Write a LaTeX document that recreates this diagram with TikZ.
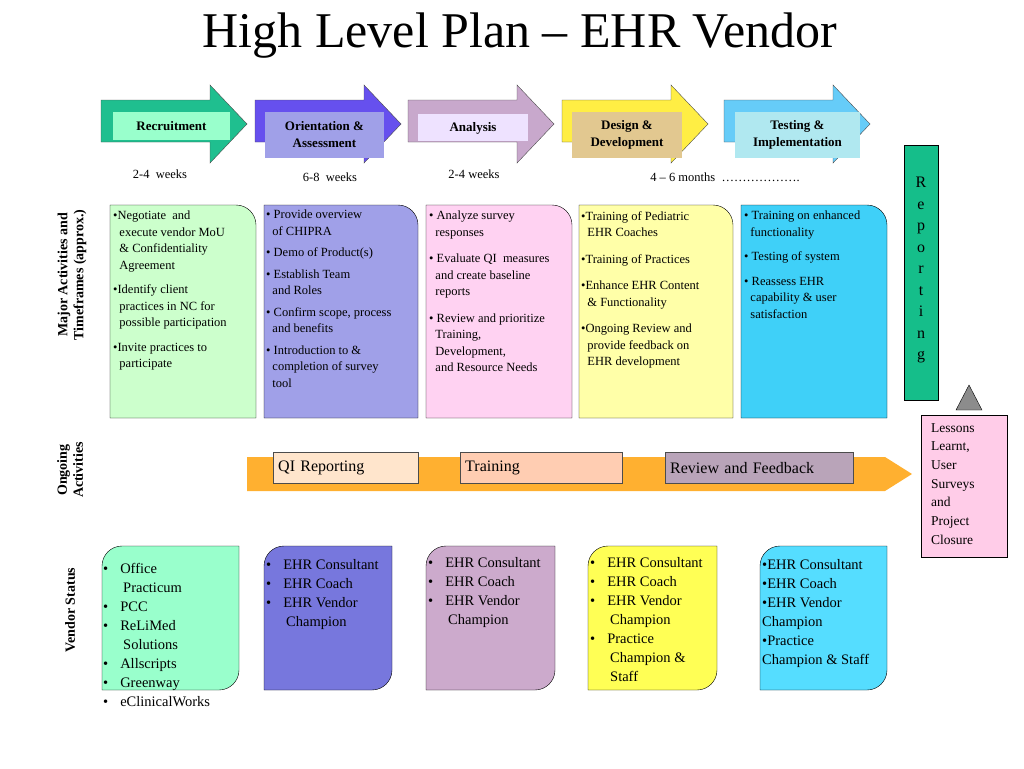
\documentclass[tikz,border=0pt]{standalone}
\usepackage{fontspec}
\setmainfont{Liberation Serif}
\usetikzlibrary{positioning}

\definecolor{recA}{HTML}{1FBF8F}\definecolor{recL}{HTML}{99FFCC}
\definecolor{oriA}{HTML}{6650EE}\definecolor{oriL}{HTML}{A0A0E8}
\definecolor{anaA}{HTML}{C8A8CC}\definecolor{anaL}{HTML}{EEE2FF}
\definecolor{desA}{HTML}{FFEE44}\definecolor{desL}{HTML}{E2C890}
\definecolor{tesA}{HTML}{66CCF8}\definecolor{tesL}{HTML}{B0E8F0}
\definecolor{actA}{HTML}{CCFFCC}\definecolor{actB}{HTML}{A0A0E8}
\definecolor{actC}{HTML}{FFD2F2}\definecolor{actD}{HTML}{FFFFA8}
\definecolor{actE}{HTML}{3FD0F8}
\definecolor{venA}{HTML}{99FFCC}\definecolor{venB}{HTML}{7777DD}
\definecolor{venC}{HTML}{CCAACC}\definecolor{venD}{HTML}{FFFF55}
\definecolor{venE}{HTML}{55DDFF}
\definecolor{ongo}{HTML}{FFB030}
\definecolor{repo}{HTML}{15BE8A}
\definecolor{less}{HTML}{FFCCE8}

\tikzset{
  phaselabel/.style={draw=none, font=\bfseries\fontsize{13}{17}\selectfont, align=center, inner sep=0pt},
  acttext/.style={anchor=north west, align=left, inner sep=0pt, font=\fontsize{12.5}{16.5}\selectfont},
  ventext/.style={anchor=north west, align=left, inner sep=0pt, font=\fontsize{14.5}{19}\selectfont},
  dur/.style={font=\fontsize{12.5}{15}\selectfont, inner sep=0pt},
  rowlabel/.style={rotate=90, font=\bfseries\fontsize{14}{16}\selectfont, align=center},
  ongolabel/.style={draw=black!70, minimum height=31pt, font=\fontsize{16}{18}\selectfont, inner sep=0pt}
}

% phase arrow: #1 left x, #2 body colour
\newcommand{\phasearrow}[2]{%
  \draw[black!70, fill=#2] (#1,100) -- (#1+109,100) -- (#1+109,85) -- (#1+146,124)
    -- (#1+109,163) -- (#1+109,142) -- (#1,142) -- cycle;}

\begin{document}
\begin{tikzpicture}[x=1pt, y=-1pt]
\useasboundingbox (0,0) rectangle (1024,768);

\node (title) at (520,36) {\fontsize{50}{54}\selectfont High Level Plan -- EHR Vendor};

% phases
\phasearrow{101}{recA}
\phasearrow{255}{oriA}
\phasearrow{408}{anaA}
\phasearrow{562}{desA}
\phasearrow{724}{tesA}
\fill[recL] (113,112) rectangle (230,140);
\node[phaselabel] (recruit) at (171.5,126) {Recruitment};
\fill[oriL] (265,112) rectangle (384,158);
\node[phaselabel] (orient) at (324.5,135) {Orientation \&\\Assessment};
\fill[anaL] (418,114) rectangle (528,141);
\node[phaselabel] (analysis) at (473,128) {Analysis};
\fill[desL] (572,112) rectangle (682,158);
\node[phaselabel] (design) at (627,135) {Design \&\\Development};
\fill[tesL] (735,112) rectangle (860,158);
\node[phaselabel] (testing) at (797.5,135) {Testing \&\\Implementation};

\node[dur] (d1) at (160,174) {2-4\ \ weeks};
\node[dur] (d2) at (330,177) {6-8\ \ weeks};
\node[dur] (d3) at (474,174) {2-4 weeks};
\node[dur] (d4) at (725,177) {4 -- 6 months\ \ \ldots\ldots\ldots\ldots\ldots\ldots.};

% row labels
\node[rowlabel] (rowmaj) at (72,275) {Major Activities and\\Timeframes (approx.)};
\node[rowlabel] (rowong) at (70,470) {Ongoing\\Activities};
\node[rowlabel] (rowven) at (70,610) {Vendor Status};

% activity boxes
\draw[fill=actA] (110,418) -- (110,205) -- (236,205) arc[start angle=-90,end angle=0,radius=20] -- (256,418) -- cycle;
\draw[fill=actB] (264,418) -- (264,205) -- (398,205) arc[start angle=-90,end angle=0,radius=20] -- (418,418) -- cycle;
\draw[fill=actC] (426,418) -- (426,205) -- (552,205) arc[start angle=-90,end angle=0,radius=20] -- (572,418) -- cycle;
\draw[fill=actD] (579,418) -- (579,205) -- (713,205) arc[start angle=-90,end angle=0,radius=20] -- (733,418) -- cycle;
\draw[fill=actE] (741,418) -- (741,205) -- (867,205) arc[start angle=-90,end angle=0,radius=20] -- (887,418) -- cycle;

\node[acttext] (act1) at (113,211) {\textbullet Negotiate\ \ and\\\ \ execute vendor MoU\\\ \ \& Confidentiality\\\ \ Agreement\\[8pt]
  \textbullet Identify client\\\ \ practices in NC for\\\ \ possible participation\\[8pt]\textbullet Invite practices to\\\ \ participate};
\node[acttext] (act2) at (266,210) {\textbullet\ Provide overview\\\ \ of CHIPRA\\[5pt]\textbullet\ Demo of Product(s)\\[5pt]
  \textbullet\ Establish Team\\\ \ and Roles\\[5pt]\textbullet\ Confirm scope, process\\\ \ and benefits\\[5pt]
  \textbullet\ Introduction to \&\\\ \ completion of survey\\\ \ tool};
\node[acttext] (act3) at (429,211) {\textbullet\ Analyze survey\\\ \ responses\\[10pt]\textbullet\ Evaluate QI\ \ measures\\\ \ and create baseline\\\ \ reports\\[10pt]
  \textbullet\ Review and prioritize\\\ \ Training,\\\ \ Development,\\\ \ and Resource Needs};
\node[acttext] (act4) at (581,211) {\textbullet Training of Pediatric\\\ \ EHR Coaches\\[10pt]\textbullet Training of Practices\\[10pt]
  \textbullet Enhance EHR Content\\\ \ \& Functionality\\[10pt]\textbullet Ongoing Review and\\\ \ provide feedback on\\\ \ EHR development};
\node[acttext] (act5) at (744,211) {\textbullet\ Training on enhanced\\\ \ functionality\\[8pt]\textbullet\ Testing of system\\[8pt]
  \textbullet\ Reassess EHR\\\ \ capability \& user\\\ \ satisfaction};

% reporting and closure
\draw[fill=repo] (904,145) rectangle (938,400);
\node[align=center, font=\fontsize{16}{21.5}\selectfont, inner sep=0pt] (report) at (921,270) {R\\e\\p\\o\\r\\t\\i\\n\\g};
\draw[fill=black!45] (956,410) -- (969,385) -- (982,410) -- cycle;
\draw[fill=less] (921,415) rectangle (1007,557);
\node[anchor=north west, align=left, inner sep=0pt, font=\fontsize{13.5}{18.7}\selectfont] (lessons) at (931,423)
  {Lessons\\Learnt,\\User\\Surveys\\and\\Project\\Closure};

% ongoing activities
\fill[ongo] (247,457) -- (885,457) -- (912,474) -- (885,491) -- (247,491) -- cycle;
\node[ongolabel, fill=orange!20, minimum width=145pt, anchor=west, text width=135pt] (qirep) at (273,468) {QI Reporting};
\node[ongolabel, fill=red!30!orange!30, minimum width=162pt, anchor=west, text width=152pt] (train) at (460,468) {Training};
\node[ongolabel, fill=violet!30!gray!55, minimum width=188pt, anchor=west, text width=178pt] (review) at (665,468) {Review and Feedback};

% vendor status
\draw[fill=venA] (102,690) -- (102,566) arc[start angle=180,end angle=270,radius=20] -- (239,546) -- (239,670) arc[start angle=0,end angle=90,radius=20] -- cycle;
\draw[fill=venB] (264,690) -- (264,566) arc[start angle=180,end angle=270,radius=20] -- (392,546) -- (392,670) arc[start angle=0,end angle=90,radius=20] -- cycle;
\draw[fill=venC] (426,690) -- (426,566) arc[start angle=180,end angle=270,radius=20] -- (555,546) -- (555,670) arc[start angle=0,end angle=90,radius=20] -- cycle;
\draw[fill=venD] (588,690) -- (588,566) arc[start angle=180,end angle=270,radius=20] -- (717,546) -- (717,670) arc[start angle=0,end angle=90,radius=20] -- cycle;
\draw[fill=venE] (760,690) -- (760,566) arc[start angle=180,end angle=270,radius=20] -- (887,546) -- (887,670) arc[start angle=0,end angle=90,radius=20] -- cycle;

\node[ventext] (ven1) at (103,563) {\textbullet\hspace{12pt}Office\\\hspace{20pt}Practicum\\\textbullet\hspace{12pt}PCC\\\textbullet\hspace{12pt}ReLiMed\\\hspace{20pt}Solutions\\
  \textbullet\hspace{12pt}Allscripts\\\textbullet\hspace{12pt}Greenway\\\textbullet\hspace{12pt}eClinicalWorks};
\node[ventext] (ven2) at (266,559) {\textbullet\hspace{12pt}EHR Consultant\\\textbullet\hspace{12pt}EHR Coach\\\textbullet\hspace{12pt}EHR Vendor\\\hspace{20pt}Champion};
\node[ventext] (ven3) at (428,557) {\textbullet\hspace{12pt}EHR Consultant\\\textbullet\hspace{12pt}EHR Coach\\\textbullet\hspace{12pt}EHR Vendor\\\hspace{20pt}Champion};
\node[ventext] (ven4) at (590,557) {\textbullet\hspace{12pt}EHR Consultant\\\textbullet\hspace{12pt}EHR Coach\\\textbullet\hspace{12pt}EHR Vendor\\\hspace{20pt}Champion\\
  \textbullet\hspace{12pt}Practice\\\hspace{20pt}Champion \&\\\hspace{20pt}Staff};
\node[ventext] (ven5) at (762,559) {\textbullet EHR Consultant\\\textbullet EHR Coach\\\textbullet EHR Vendor\\Champion\\\textbullet Practice\\Champion \& Staff};
\end{tikzpicture}
\end{document}
